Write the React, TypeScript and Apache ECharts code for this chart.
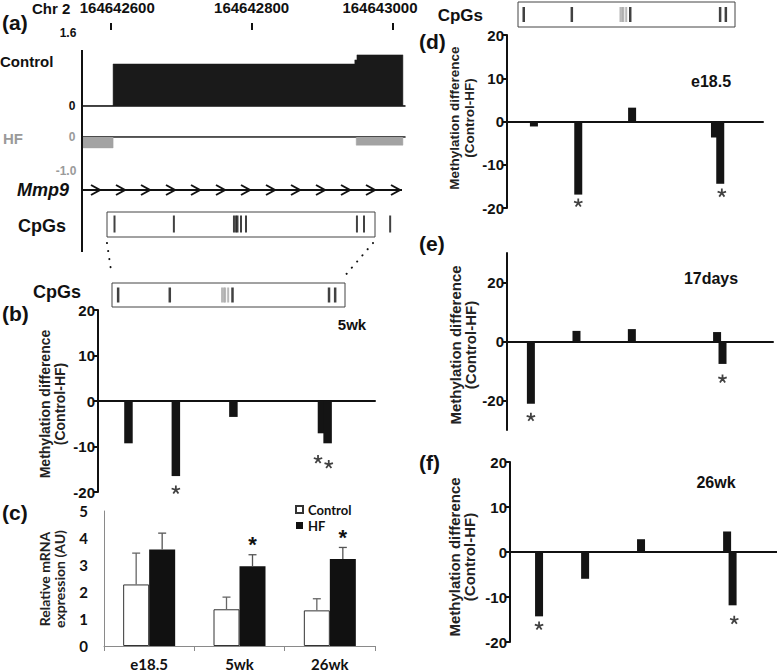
import React, { useEffect, useRef } from 'react';
import * as echarts from 'echarts';

const ARIAL = 'Arial, Liberation Sans, Helvetica, sans-serif';
const CALIBRI = 'Lato, Open Sans, sans-serif';
const NARROW = 'Liberation Sans Narrow, Arial Narrow, Lato, sans-serif';

// ---------- panel (a): genome track ----------
const rulerTicks = [164642600, 164642800, 164643000];
const controlPos = [164642560, 164642604, 164642946, 164642949, 164643014, 164643017];
const controlVal = [0, 0.92, 1.01, 1.12, 0, 0];
const controlTicks = [0, 1.6];
const hfPos = [164642560, 164642604, 164642948, 164643014, 164643017];
const hfVal = [-0.32, 0, -0.24, 0, 0];
const hfTicks = [-1, 0];
const cpgPos = [164642606, 164642690, 164642775, 164642778, 164642780, 164642785, 164642792, 164642949, 164642959, 164642996];
const cpgUnmeasured = [164642775, 164642778, 164642780, 164642785];

// ---------- methylation difference (Control-HF) ----------
const siteCpG = [164642606, 164642690, 164642792, 164642949, 164642959];
const meth5wk = [-9.3, -16.5, -3.5, -7.1, -9.3];
const methE185 = [-1.15, -16.9, 3.2, -3.7, -14.4];
const meth17d = [-21.1, 3.6, 4.2, 3.2, -7.6];
const meth26wk = [-14.3, -5.95, 2.84, 4.56, -11.85];
const stars5wk = [[164642690, -19.5], [164642942, -12.8], [164642961, -13.9]];
const starsE185 = [[164642690, -18.8], [164642962, -16.5]];
const stars17d = [[164642606, -25.6], [164642959, -12.6]];
const stars26wk = [[164642606, -16.4], [164642962, -15.1]];
const methTicks = [-20, -10, 0, 10, 20];
const methTicks17d = [-20, 0, 20];

// ---------- panel (c): mRNA ----------
const mrnaCats = ['e18.5', '5wk', '26wk'];
const mrnaControl = [2.28, 1.36, 1.32];
const mrnaControlErr = [1.16, 0.45, 0.43];
const mrnaHF = [3.57, 2.95, 3.22];
const mrnaHFErr = [0.61, 0.43, 0.43];
const mrnaHFSig = [false, true, true];

const zip = (a: number[], b: number[]) => a.map((v, i) => [v, b[i]]);

// asterisk glyph (5 arms) used as a scatter symbol for significance marks
const ASTERISK = (() => {
  const w = 0.2;
  let d = '';
  for (let k = 0; k < 5; k++) {
    const a = -Math.PI / 2 + (k * 2 * Math.PI) / 5;
    const dx = Math.cos(a);
    const dy = Math.sin(a);
    const px = -dy * w;
    const py = dx * w;
    const pts = [[px, py], [dx + px, dy + py], [dx - px, dy - py], [-px, -py]];
    d += 'M' + pts.map((p) => (p[0] + 1.5).toFixed(3) + ' ' + (p[1] + 1.5).toFixed(3)).join('L') + 'Z';
  }
  return 'path://' + d;
})();

const txt = (text: string, x: number, y: number, o: any = {}) => ({
  type: 'text',
  x,
  y,
  rotation: o.rotation || 0,
  silent: true,
  z: 20,
  style: {
    text,
    fill: o.color || '#111',
    fontSize: o.size || 14,
    fontWeight: 'bold',
    fontStyle: o.italic ? 'italic' : 'normal',
    fontFamily: o.family || ARIAL,
    textAlign: o.align || 'left',
    align: o.align || 'left',
    textVerticalAlign: 'middle',
    verticalAlign: 'middle',
    lineHeight: o.lineHeight || undefined,
  },
});

const hline = (x1: number, y1: number, x2: number, y2: number, o: any = {}) => ({
  type: 'line',
  silent: true,
  z: 15,
  shape: { x1, y1, x2, y2 },
  style: { stroke: o.color || '#111', lineWidth: o.width || 2, lineDash: o.dash, lineCap: o.cap || 'butt' },
});

const boxRect = (x: number, y: number, w: number, h: number) => ({
  type: 'rect',
  silent: true,
  z: 15,
  shape: { x, y, width: w, height: h },
  style: { fill: 'none', stroke: '#444', lineWidth: 1 },
});

const boldLabel = (size: number, color: string, family = ARIAL) => ({
  fontSize: size,
  fontWeight: 'bold' as const,
  fontFamily: family,
  color,
});

function buildOption() {
  const grid: any[] = [];
  const xAxis: any[] = [];
  const yAxis: any[] = [];
  const series: any[] = [];

  const hiddenY = (gi: number) => ({ type: 'value', gridIndex: gi, min: 0, max: 1, show: false });

  // grid 0: control track
  grid.push({ left: 82, top: 29.7, width: 323, height: 76.3 });
  xAxis.push({
    type: 'value', gridIndex: 0, min: 164642560, max: 164643017, position: 'bottom',
    axisLine: { show: true, onZero: true, lineStyle: { color: '#111', width: 1.5 } },
    axisTick: { show: false }, axisLabel: { show: false }, splitLine: { show: false },
  });
  xAxis.push({
    type: 'value', gridIndex: 0, min: 164642560, max: 164643017, position: 'top', offset: 0.7,
    axisLine: { show: false, onZero: false },
    axisTick: { show: true, customValues: rulerTicks, length: 7, inside: false, lineStyle: { color: '#111', width: 2 } },
    axisLabel: {
      show: true, customValues: rulerTicks, margin: 15, ...boldLabel(15, '#111'),
      formatter: (v: number) => {
        const i = rulerTicks.indexOf(Math.round(v));
        return '{t' + i + '|' + String(Math.round(v)) + '}';
      },
      rich: {
        t0: { ...boldLabel(15, '#111'), padding: [0, 0, 0, 14] },
        t1: { ...boldLabel(15, '#111'), padding: [0, 0, 0, 0] },
        t2: { ...boldLabel(15, '#111'), padding: [0, 26, 0, 0] },
      },
    },
    splitLine: { show: false },
  });
  yAxis.push({
    type: 'value', gridIndex: 0, min: 0, max: 1.65,
    axisLine: { show: false }, axisTick: { show: false }, splitLine: { show: false }, axisLabel: { show: false },
  });
  series.push({
    type: 'line', name: 'controlTrack', xAxisIndex: 0, yAxisIndex: 0, step: 'end', symbol: 'none',
    data: zip(controlPos, controlVal), lineStyle: { width: 0.5, color: '#1a1a1a' }, areaStyle: { color: '#1a1a1a', opacity: 1 },
  });

  // grid 1: HF track
  grid.push({ left: 82, top: 137, width: 323, height: 35.7 });
  xAxis.push({
    type: 'value', gridIndex: 1, min: 164642560, max: 164643017,
    axisLine: { show: true, onZero: true, lineStyle: { color: '#111', width: 1.5 } },
    axisTick: { show: false }, axisLabel: { show: false }, splitLine: { show: false },
  });
  yAxis.push({
    type: 'value', gridIndex: 1, min: -1.05, max: 0,
    axisLine: { show: false }, axisTick: { show: false }, splitLine: { show: false }, axisLabel: { show: false },
  });
  series.push({
    type: 'line', name: 'hfTrack', xAxisIndex: 2, yAxisIndex: 1, step: 'end', symbol: 'none', z: 1,
    data: zip(hfPos, hfVal), lineStyle: { width: 0.5, color: '#a3a3a3' }, areaStyle: { color: '#a3a3a3', opacity: 1 },
  });

  // grid 2: CpGs (a)
  grid.push({ left: 82, top: 212, width: 323, height: 25 });
  xAxis.push({ type: 'value', gridIndex: 2, min: 164642560, max: 164643017, show: false });
  yAxis.push(hiddenY(2));
  series.push({
    type: 'scatter', name: 'cpgA', xAxisIndex: 3, yAxisIndex: 2, symbol: 'rect', symbolSize: [2, 17], silent: true,
    itemStyle: { color: '#111' }, data: cpgPos.map((p) => [p, 0.52]),
  });

  // grid 3 & 4: zoomed CpG boxes (b) and (d)
  const zoomBoxes = [
    { left: 112, top: 283, width: 233, height: 24 },
    { left: 518, top: 2, width: 217, height: 25 },
  ];
  const insideBox = cpgPos.filter((p) => p <= 164642975);
  zoomBoxes.forEach((b, k) => {
    const gi = 3 + k;
    grid.push(b);
    xAxis.push({ type: 'value', gridIndex: gi, min: 164642596, max: 164642975, show: false });
    yAxis.push(hiddenY(gi));
    series.push({
      type: 'scatter', name: 'cpgZoomGray' + k, xAxisIndex: gi + 1, yAxisIndex: gi, symbol: 'rect', symbolSize: [2, 15], silent: true,
      itemStyle: { color: '#a8a8a8' }, data: insideBox.filter((p) => cpgUnmeasured.includes(p)).map((p) => [p, 0.5]),
    });
    series.push({
      type: 'scatter', name: 'cpgZoom' + k, xAxisIndex: gi + 1, yAxisIndex: gi, symbol: 'rect', symbolSize: [2.5, 15], silent: true,
      itemStyle: { color: '#111' }, data: insideBox.filter((p) => !cpgUnmeasured.includes(p)).map((p) => [p, 0.5]),
    });
  });

  // methylation charts
  const meth = (
    g: any, xr: number[], yr: number[], labels: number[], values: number[], stars: number[][], barWidth: number
  ) => {
    const gi = grid.length;
    grid.push(g);
    const xi = xAxis.length;
    xAxis.push({
      type: 'value', gridIndex: gi, min: xr[0], max: xr[1],
      axisLine: { show: true, onZero: true, lineStyle: { color: '#111', width: 2 } },
      axisTick: { show: false }, axisLabel: { show: false }, splitLine: { show: false },
    });
    const yi = yAxis.length;
    yAxis.push({
      type: 'value', gridIndex: gi, min: yr[0], max: yr[1],
      axisLine: { show: true, onZero: false, lineStyle: { color: '#111', width: 2 } },
      axisTick: { show: true, customValues: labels, length: 4, lineStyle: { color: '#111', width: 2 } },
      axisLabel: { customValues: labels, margin: 3, ...boldLabel(15, '#111'), formatter: (v: number) => String(v) },
      splitLine: { show: false },
    });
    series.push({
      type: 'bar', name: 'meth' + gi, xAxisIndex: xi, yAxisIndex: yi, barWidth, silent: true,
      itemStyle: { color: '#141414' }, data: zip(siteCpG, values),
    });
    series.push({
      type: 'scatter', name: 'star' + gi, xAxisIndex: xi, yAxisIndex: yi, symbol: ASTERISK, symbolSize: 9,
      symbolKeepAspect: true, silent: true, itemStyle: { color: '#111' }, data: stars,
    });
  };

  meth({ left: 98, top: 310, width: 277, height: 182 }, [164642552, 164643043], [-20, 20], methTicks, meth5wk, stars5wk, 8.5);

  // grid for (c)
  const gc = grid.length;
  grid.push({ left: 104, top: 511, width: 271, height: 136 });
  const xc = xAxis.length;
  xAxis.push({
    type: 'category', gridIndex: gc, data: mrnaCats,
    axisLine: { show: true, lineStyle: { color: '#8a8a8a', width: 1 } },
    axisTick: { show: true, length: 5, alignWithLabel: false, lineStyle: { color: '#8a8a8a' } },
    axisLabel: { margin: 10, ...boldLabel(15, '#111', CALIBRI) },
  });
  const yc = yAxis.length;
  yAxis.push({
    type: 'value', gridIndex: gc, min: 0, max: 5, interval: 1,
    axisLine: { show: true, lineStyle: { color: '#8a8a8a', width: 1 } },
    axisTick: { show: false }, splitLine: { show: false },
    axisLabel: { margin: 16, ...boldLabel(15, '#111', CALIBRI) },
  });
  series.push({
    type: 'bar', name: 'Control', xAxisIndex: xc, yAxisIndex: yc, barWidth: 26, barGap: '0%', silent: true,
    itemStyle: { color: '#ffffff', borderColor: '#333', borderWidth: 1 }, data: mrnaControl,
  });
  series.push({
    type: 'bar', name: 'HF', xAxisIndex: xc, yAxisIndex: yc, barWidth: 26, barGap: '0%', silent: true,
    itemStyle: { color: '#111' },
    data: mrnaHF.map((v, i) => ({
      value: v,
      label: { show: mrnaHFSig[i], position: 'top', distance: 11, formatter: '*', ...boldLabel(22, '#111') },
    })),
  });
  const err = (name: string, means: number[], errs: number[], dx: number, color: string) => ({
    type: 'custom', name, xAxisIndex: xc, yAxisIndex: yc, z: 5, silent: true,
    data: means.map((m, i) => [i, m, errs[i]]),
    renderItem: (_p: any, api: any) => {
      const i = api.value(0);
      const m = api.value(1);
      const e = api.value(2);
      const p0 = api.coord([i, m]);
      const p1 = api.coord([i, m + e]);
      const x = p0[0] + dx;
      return {
        type: 'group',
        children: [
          { type: 'line', shape: { x1: x, y1: p0[1], x2: x, y2: p1[1] }, style: { stroke: color, lineWidth: 1.3 } },
          { type: 'line', shape: { x1: x - 4, y1: p1[1], x2: x + 4, y2: p1[1] }, style: { stroke: color, lineWidth: 1.3 } },
        ],
      };
    },
  });
  series.push(err('ctrlErr', mrnaControl, mrnaControlErr, -13, '#666'));
  series.push(err('hfErr', mrnaHF, mrnaHFErr, 13, '#555'));

  meth({ left: 507, top: 35, width: 256, height: 173 }, [164642555, 164643040], [-20, 20], methTicks, methE185, starsE185, 8);
  meth({ left: 507, top: 253, width: 266, height: 177 }, [164642562, 164643052], [-30, 30], methTicks17d, meth17d, stars17d, 8);
  meth({ left: 510, top: 462, width: 267, height: 180 }, [164642553, 164643040], [-20, 20], methTicks, meth26wk, stars26wk, 8);

  // graphics
  const graphic: any[] = [];
  graphic.push(txt('(a)', 2, 22, { size: 21 }));
  graphic.push(txt('(b)', 2, 313, { size: 21 }));
  graphic.push(txt('(c)', 2, 512, { size: 21 }));
  graphic.push(txt('(d)', 419, 41, { size: 21 }));
  graphic.push(txt('(e)', 419, 243, { size: 21 }));
  graphic.push(txt('(f)', 419, 462, { size: 21 }));
  graphic.push(txt('Chr 2', 32, 8, { size: 15 }));
  graphic.push(txt('Control', 0, 61, { size: 15 }));
  graphic.push(txt('HF', 3, 138, { size: 15, color: '#9a9a9a' }));
  graphic.push(txt('Mmp9', 17, 190, { size: 18, italic: true }));
  graphic.push(txt('CpGs', 18, 226, { size: 18 }));
  graphic.push(txt('CpGs', 33, 292, { size: 18 }));
  graphic.push(txt('CpGs', 483, 15, { size: 17, align: 'right' }));
  graphic.push(hline(82, 50, 82, 252, { width: 2 }));
  graphic.push(hline(82, 190, 402, 190, { width: 2 }));
  for (let tip = 100; tip <= 400; tip += 25) {
    graphic.push({
      type: 'polyline', silent: true, z: 16,
      shape: { points: [[tip - 9, 185], [tip, 190], [tip - 9, 195]] },
      style: { stroke: '#111', lineWidth: 2, fill: 'none' },
    });
  }
  graphic.push(boxRect(107, 212, 268, 25));
  graphic.push(boxRect(112, 283, 233, 24));
  graphic.push(boxRect(518, 2, 217, 25));
  graphic.push(hline(107, 243, 111, 270, { width: 2, dash: [0.1, 8], cap: 'round' }));
  graphic.push(hline(373, 243, 343, 278, { width: 2, dash: [0.1, 8], cap: 'round' }));
  graphic.push(txt('5wk', 352, 324, { size: 15, align: 'center' }));
  graphic.push(txt('e18.5', 711, 81, { size: 16, align: 'center' }));
  graphic.push(txt('17days', 711, 278, { size: 16, align: 'center' }));
  graphic.push(txt('26wk', 716, 482, { size: 16, align: 'center' }));
  const yt = 'Methylation difference\n(Control-HF)';
  graphic.push(txt(yt, 52, 404, { size: 14, align: 'center', rotation: Math.PI / 2, lineHeight: 15, color: '#222' }));
  graphic.push(txt(yt, 462, 118, { size: 13.5, align: 'center', rotation: Math.PI / 2, lineHeight: 15, color: '#222' }));
  graphic.push(txt(yt, 463, 345, { size: 15, align: 'center', rotation: Math.PI / 2, lineHeight: 15, color: '#222' }));
  graphic.push(txt(yt, 462, 557, { size: 15, align: 'center', rotation: Math.PI / 2, lineHeight: 15, color: '#222' }));
  graphic.push(txt('Relative mRNA\nexpression (AU)', 52, 579, { size: 14, align: 'center', rotation: Math.PI / 2, lineHeight: 15, family: NARROW, color: '#222' }));

  return {
    animation: false,
    backgroundColor: '#ffffff',
    grid,
    xAxis,
    yAxis,
    series,
    graphic,
    legend: {
      data: ['Control', 'HF'], orient: 'vertical', left: 295, top: 503, padding: 0,
      itemWidth: 7, itemHeight: 7, itemGap: 3, icon: 'rect', selectedMode: false,
      textStyle: { ...boldLabel(13, '#111', CALIBRI) },
    },
  };
}

export default function App() {
  const ref = useRef<HTMLDivElement>(null);
  useEffect(() => {
    const chart = echarts.init(ref.current as HTMLDivElement, null, { renderer: 'svg' });
    const option: any = buildOption();
    chart.setOption(option);
    // track y-axis tick labels, centred just left of the track axis, heights from the axes' own scales
    const LABEL_SIZE = 12;
    const trackLabel = (axisIndex: number, ticks: number[], color: string, centers: number[]) =>
      ticks.map((v, i) => {
        const y = Number(chart.convertToPixel({ yAxisIndex: axisIndex } as any, v));
        const s = v === 0 ? '0' : v.toFixed(1);
        return txt(s, centers[i], y, { size: LABEL_SIZE, align: 'center', color });
      });
    option.graphic = option.graphic.concat(
      trackLabel(0, controlTicks, '#111', [72, 68]),
      trackLabel(1, hfTicks, '#9a9a9a', [66, 72])
    );
    chart.setOption(option, true);
    return () => chart.dispose();
  }, []);
  return (
    <div
      ref={ref}
      style={{ position: 'absolute', left: 0, top: 0, width: 777, height: 671, background: '#fff' }}
    />
  );
}
